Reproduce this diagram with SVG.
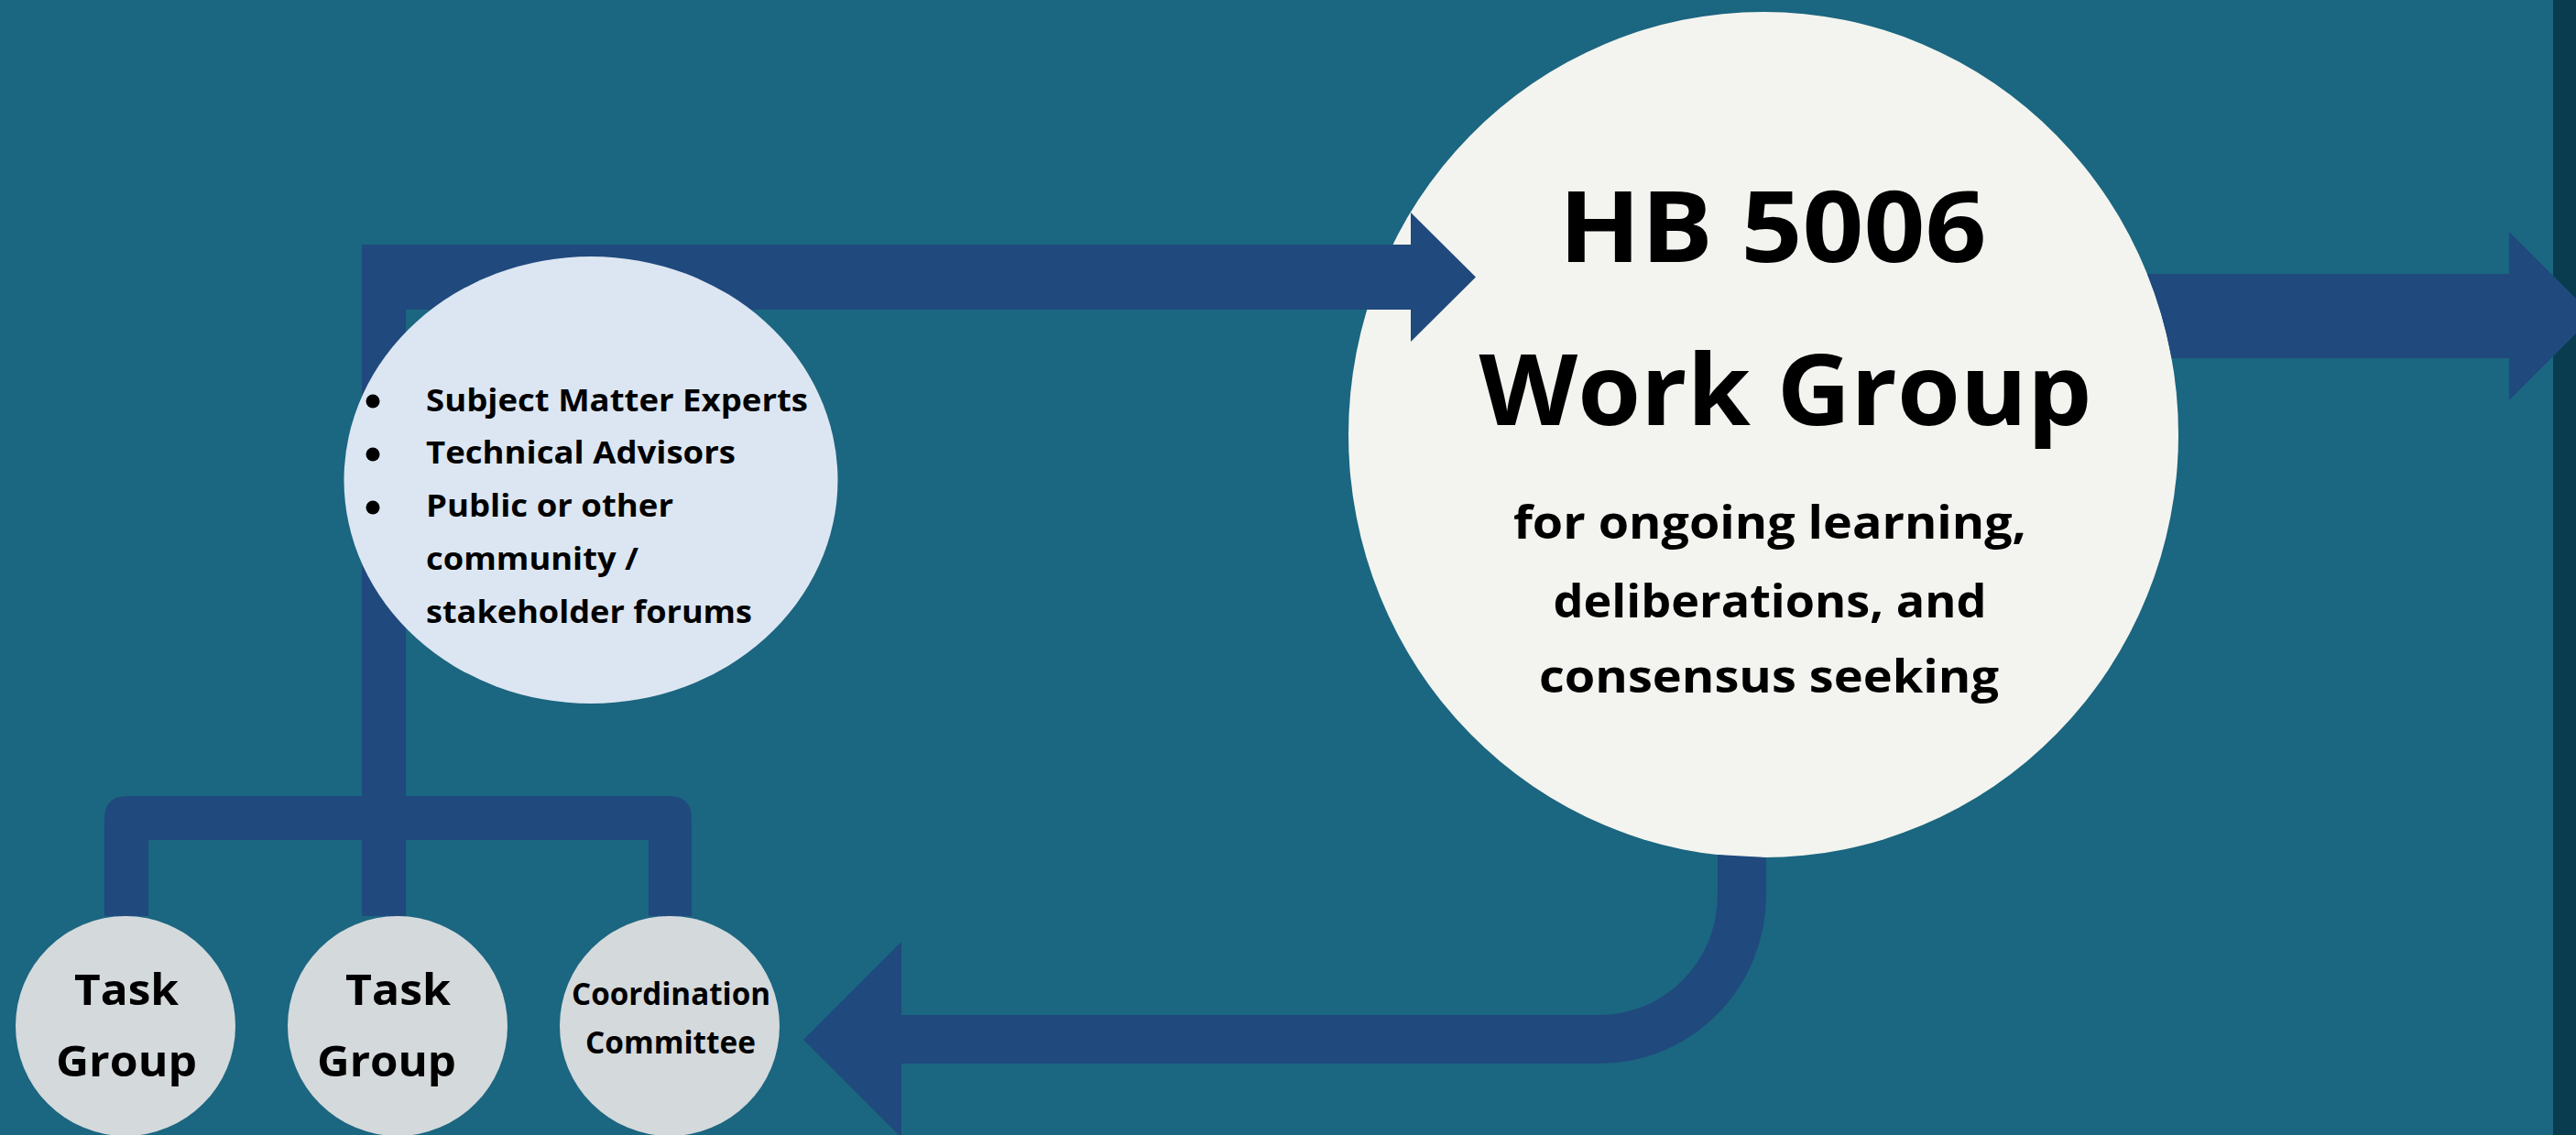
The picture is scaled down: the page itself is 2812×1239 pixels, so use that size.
<svg xmlns="http://www.w3.org/2000/svg" width="2812" height="1239" viewBox="0 0 2812 1239">
<style>
.t{font-family:"Open Sans","Liberation Sans",sans-serif;font-weight:700;fill:#000}
.c{text-anchor:middle}
.arrow{fill:#20497d}
</style>
<rect x="0" y="0" width="2812" height="1239" fill="#1b6680"/>
<rect x="2787" y="0" width="25" height="1239" fill="#0a3c50"/>
<g id="node-workgroup">
<ellipse cx="1925" cy="474.5" rx="453" ry="461.5" fill="#f3f4ef"/>
<text class="t c" x="1935" y="286" font-size="108" textLength="467" lengthAdjust="spacingAndGlyphs">HB 5006</text>
<text class="t c" x="1949" y="464" font-size="108" textLength="669" lengthAdjust="spacingAndGlyphs">Work Group</text>
<text class="t c" x="1932" y="588" font-size="50" textLength="560" lengthAdjust="spacingAndGlyphs">for ongoing learning,</text>
<text class="t c" x="1932" y="674" font-size="50" textLength="473" lengthAdjust="spacingAndGlyphs">deliberations, and</text>
<text class="t c" x="1931" y="756" font-size="50" textLength="502" lengthAdjust="spacingAndGlyphs">consensus seeking</text>
</g>
<g id="connectors">
<path class="arrow" d="M114,1000 V894 Q114,869 139,869 H730 Q755,869 755,894 V1000 H708 V917 H443 V1000 H395 V917 H162 V1000 Z"/>
<path class="arrow" d="M395,917 V267 H1540 V232 L1611,302.5 L1540,373 V338 H443 V917 Z"/>
<path class="arrow" d="M2344,299 H2739 V253 L2831,345 L2739,437 V391 H2370.5 A453,461.5 0 0 0 2344,299 Z"/>
<path class="arrow" d="M1928,936 V977 A182,184 0 0 1 1746,1161 H984 V1242 L877,1135 L984,1028 V1108 H1746 A129,131 0 0 0 1875,977 V933 Z"/>
</g>
<g id="node-advisors">
<ellipse cx="645" cy="524" rx="269.5" ry="244" fill="#dce6f2"/>
<circle cx="407" cy="438" r="7.5" fill="#000"/>
<circle cx="407" cy="496" r="7.5" fill="#000"/>
<circle cx="407" cy="554" r="7.5" fill="#000"/>
<text class="t" x="465" y="449" font-size="34" textLength="417" lengthAdjust="spacingAndGlyphs">Subject Matter Experts</text>
<text class="t" x="465" y="506" font-size="34" textLength="338" lengthAdjust="spacingAndGlyphs">Technical Advisors</text>
<text class="t" x="465" y="564" font-size="34" textLength="270" lengthAdjust="spacingAndGlyphs">Public or other</text>
<text class="t" x="465" y="622" font-size="34" textLength="232" lengthAdjust="spacingAndGlyphs">community /</text>
<text class="t" x="465" y="680" font-size="34" textLength="356" lengthAdjust="spacingAndGlyphs">stakeholder forums</text>
</g>
<g id="node-taskgroup-1">
<circle cx="137" cy="1120" r="120" fill="#d4d9dc"/>
<text class="t c" x="138" y="1097" font-size="47" textLength="114" lengthAdjust="spacingAndGlyphs">Task</text>
<text class="t c" x="138" y="1175" font-size="47" textLength="154" lengthAdjust="spacingAndGlyphs">Group</text>
</g>
<g id="node-taskgroup-2">
<circle cx="434" cy="1120" r="120" fill="#d4d9dc"/>
<text class="t c" x="434.5" y="1097" font-size="47" textLength="115" lengthAdjust="spacingAndGlyphs">Task</text>
<text class="t c" x="422" y="1175" font-size="47" textLength="152" lengthAdjust="spacingAndGlyphs">Group</text>
</g>
<g id="node-coordination">
<circle cx="731" cy="1120" r="120" fill="#d4d9dc"/>
<text class="t c" x="732.5" y="1097" font-size="34" textLength="217" lengthAdjust="spacingAndGlyphs">Coordination</text>
<text class="t c" x="732" y="1150" font-size="34" textLength="186" lengthAdjust="spacingAndGlyphs">Committee</text>
</g>
</svg>
